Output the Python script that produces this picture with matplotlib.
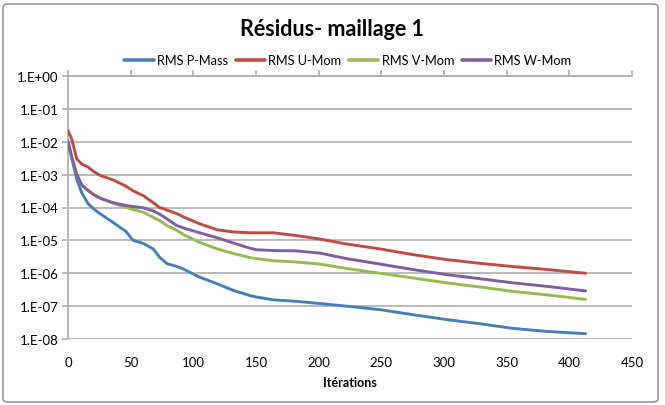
import matplotlib
matplotlib.use("Agg")
import matplotlib.pyplot as plt
from matplotlib.patches import FancyBboxPatch
from matplotlib.ticker import FixedLocator, FuncFormatter
import numpy as np

plt.rcParams['font.family'] = ['Lato', 'DejaVu Sans']

title = "Résidus- maillage 1"
xlabel = "Itérations"
series_names = ["RMS P-Mass", "RMS U-Mom", "RMS V-Mom", "RMS W-Mom"]
colors = ["#4A7EBB", "#BE4B48", "#98B954", "#7D60A0"]

iterations = [0, 3, 7, 11, 16, 21, 26, 36, 46, 52, 60, 68, 73, 79, 87, 92, 105,
              119, 132, 145, 150, 164, 182, 201, 222, 249, 275, 302, 329, 355, 382, 413]

p_mass = [1.07e-2, 3.2e-3, 7.1e-4, 2.8e-4, 1.3e-4, 8.7e-5, 6.3e-5, 3.5e-5, 1.9e-5, 1.0e-5,
          8.1e-6, 5.5e-6, 3.1e-6, 1.95e-6, 1.6e-6, 1.35e-6, 7.6e-7, 4.8e-7, 3.0e-7, 2.1e-7,
          1.9e-7, 1.55e-7, 1.4e-7, 1.2e-7, 1.0e-7, 7.8e-8, 5.5e-8, 3.9e-8, 2.9e-8, 2.1e-8,
          1.7e-8, 1.45e-8]
u_mom = [2.2e-2, 1.2e-2, 3.0e-3, 2.1e-3, 1.7e-3, 1.2e-3, 9.3e-4, 6.9e-4, 4.5e-4, 3.2e-4,
         2.3e-4, 1.4e-4, 1.0e-4, 8.3e-5, 6.5e-5, 5.2e-5, 3.2e-5, 2.1e-5, 1.8e-5, 1.7e-5,
         1.7e-5, 1.7e-5, 1.4e-5, 1.1e-5, 7.8e-6, 5.5e-6, 3.7e-6, 2.6e-6, 2.0e-6, 1.6e-6,
         1.3e-6, 1.0e-6]
v_mom = [7.9e-3, 3.2e-3, 1.0e-3, 4.8e-4, 3.3e-4, 2.4e-4, 1.9e-4, 1.35e-4, 1.02e-4, 8.7e-5,
         7.2e-5, 5.0e-5, 4.0e-5, 2.8e-5, 2.0e-5, 1.5e-5, 8.7e-6, 5.5e-6, 4.0e-6, 3.0e-6,
         2.8e-6, 2.4e-6, 2.2e-6, 1.9e-6, 1.4e-6, 1.0e-6, 7.2e-7, 5.1e-7, 3.8e-7, 2.8e-7,
         2.2e-7, 1.6e-7]
w_mom = [1.0e-2, 3.5e-3, 1.0e-3, 4.8e-4, 3.3e-4, 2.4e-4, 1.9e-4, 1.4e-4, 1.15e-4, 1.07e-4,
         9.8e-5, 7.9e-5, 6.3e-5, 4.5e-5, 2.8e-5, 2.4e-5, 1.7e-5, 1.2e-5, 8.3e-6, 5.8e-6,
         5.2e-6, 4.9e-6, 4.8e-6, 4.1e-6, 2.8e-6, 1.9e-6, 1.3e-6, 9.1e-7, 6.8e-7, 5.1e-7,
         4.0e-7, 2.9e-7]

y_ticks = [1e-8, 1e-7, 1e-6, 1e-5, 1e-4, 1e-3, 1e-2, 1e-1, 1e0]
x_ticks = [0, 50, 100, 150, 200, 250, 300, 350, 400, 450]

W, H = 665, 406
fig = plt.figure(figsize=(W / 100, H / 100), dpi=100)
ax = fig.add_axes([68 / W, 1 - 340 / H, (632 - 68) / W, (340 - 77) / H])

grid_c = "#ADADAD"
for name, c, vals in zip(series_names, colors, [p_mass, u_mom, v_mom, w_mom]):
    ax.plot(iterations, vals, color=c, lw=2.1, label=name, solid_capstyle='round',
            solid_joinstyle='round', zorder=3)

ax.set_yscale('log')
ax.set_ylim(1e-8, 1e0)
ax.set_xlim(0, 450)
ax.yaxis.set_major_locator(FixedLocator(y_ticks))
ax.yaxis.set_minor_locator(FixedLocator([]))
ax.yaxis.set_major_formatter(FuncFormatter(lambda v, p: "1.E%+03d" % int(round(np.log10(v)))))
ax.set_xticks(x_ticks)

ax.grid(axis='y', color=grid_c, lw=1.2, zorder=0)
for s in ['right', 'bottom']:
    ax.spines[s].set_visible(False)
for s in ['left', 'top']:
    ax.spines[s].set_color(grid_c)
    ax.spines[s].set_linewidth(1.2)

ax.tick_params(axis='x', top=True, bottom=False, labeltop=False, labelbottom=True,
               direction='out', length=4, width=1.2, color=grid_c, labelsize=9.5, pad=8,
               labelcolor='#000000')
ax.tick_params(axis='y', direction='out', length=4, width=1.2, color=grid_c,
               labelsize=9.5, pad=3)

ax.set_xlabel(xlabel, fontsize=9, fontweight='bold', labelpad=6)

fig.text(332 / W, 1 - 30 / H, title, ha='center', va='center', fontsize=15.5,
         fontweight='bold')

leg = fig.legend(loc='center', bbox_to_anchor=(348 / W, 1 - 61 / H), ncol=4,
                 frameon=False, fontsize=9.2, handlelength=2.3, handletextpad=0.25,
                 columnspacing=0.6, borderaxespad=0)
for line in leg.get_lines():
    line.set_linewidth(2.6)

border = FancyBboxPatch((3 / W, 3 / H), (655 / W), (398 / H),
                        boxstyle="round,pad=0,rounding_size=0.008",
                        transform=fig.transFigure, fill=False, ec="#9A9A9A", lw=1.2)
fig.patches.append(border)

fig.savefig("out.png", dpi=100)
